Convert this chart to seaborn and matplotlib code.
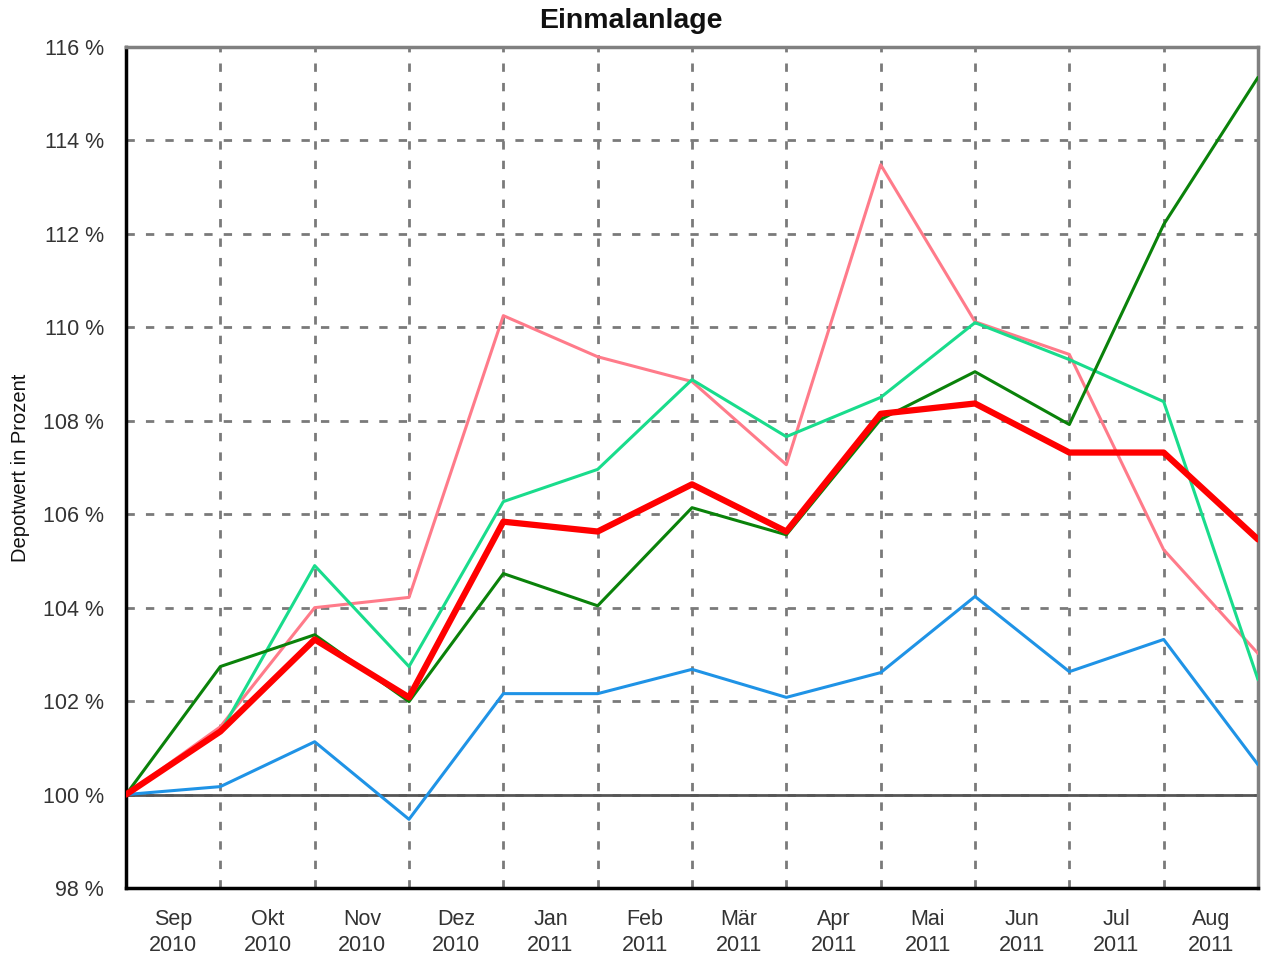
import numpy as np
import pandas as pd
import matplotlib
matplotlib.use("Agg")
import matplotlib.pyplot as plt
import seaborn as sns

# month labels (one per interval between data points)
months = ["Sep\n2010", "Okt\n2010", "Nov\n2010", "Dez\n2010", "Jan\n2011", "Feb\n2011",
          "Mär\n2011", "Apr\n2011", "Mai\n2011", "Jun\n2011", "Jul\n2011", "Aug\n2011"]

# values in percent, 13 points (month boundaries)
rot = [100.0, 101.35, 103.32, 102.08, 105.84, 105.63, 106.64, 105.63, 108.15, 108.37, 107.32, 107.32, 105.46]
rosa = [100.0, 101.45, 104.0, 104.22, 110.25, 109.37, 108.84, 107.06, 113.48, 110.12, 109.42, 105.24, 103.02]
tuerkis = [100.0, 101.33, 104.9, 102.74, 106.27, 106.96, 108.88, 107.66, 108.5, 110.1, 109.31, 108.41, 102.46]
gruen = [100.0, 102.74, 103.42, 101.99, 104.73, 104.04, 106.14, 105.56, 108.03, 109.05, 107.92, 112.2, 115.35]
blau = [100.0, 100.17, 101.13, 99.47, 102.16, 102.16, 102.68, 102.08, 102.61, 104.24, 102.63, 103.32, 100.64]

series = {"blau": blau, "rosa": rosa, "tuerkis": tuerkis, "gruen": gruen, "rot": rot}
colors = {"blau": "#1f93e6", "rosa": "#ff7b8a", "tuerkis": "#19dc8c", "gruen": "#0a820a", "rot": "#ff0000"}
widths = {"blau": 2.2, "rosa": 2.2, "tuerkis": 2.2, "gruen": 2.2, "rot": 4.5}

idx = np.arange(len(rot))
df = pd.DataFrame({k: v for k, v in series.items()}, index=idx)
long = df.reset_index().melt(id_vars="index", var_name="serie", value_name="wert")

sns.set_style("white")
plt.rcParams["font.family"] = ["Liberation Sans", "DejaVu Sans"]

fig = plt.figure(figsize=(12.61, 9.57), dpi=100)
ax = fig.add_axes([126 / 1261, 1 - 888 / 957, (1258 - 126) / 1261, (888 - 47) / 957])

ax.axhline(100, color="#555555", lw=2, zorder=1.5)
for name in series:
    sns.lineplot(data=long[long.serie == name], x="index", y="wert", ax=ax,
                 color=colors[name], lw=widths[name], zorder=3, legend=False)

ax.set_xlim(0, 12)
ax.set_ylim(98, 116)
ax.set_xticks(idx)
ax.set_xticklabels([])
ax.set_xticks(idx[:-1] + 0.5, minor=True)
ax.set_xticklabels(months, minor=True, fontsize=15.5, color="#333333", linespacing=1.3)
ax.tick_params(axis="x", which="minor", length=0, pad=15)
ax.tick_params(axis="x", which="major", length=7.5, width=2, color="#808080", direction="out")
yt = np.arange(98, 117, 2)
ax.set_yticks(yt)
ax.set_yticklabels([f"{v} %" for v in yt], fontsize=15.5, color="#333333")
ax.tick_params(axis="y", length=8, width=2, color="#808080", pad=8)

ax.grid(True, which="major", color="#7a7a7a", ls=(0, (3, 4)), lw=2, zorder=1)
ax.set_axisbelow(True)

for side in ["left", "bottom"]:
    ax.spines[side].set_color("black")
    ax.spines[side].set_linewidth(2.5)
for side in ["top", "right"]:
    ax.spines[side].set_color("#808080")
    ax.spines[side].set_linewidth(2.5)

ax.set_xlabel("")
ax.set_ylabel("Depotwert in Prozent", fontsize=14.5, color="#111111", labelpad=9)
fig.suptitle("Einmalanlage", x=0.5, y=1 - 21 / 957, va="center",
             fontsize=20.5, fontweight="bold", color="#111111")

fig.savefig("out.png", dpi=100)
